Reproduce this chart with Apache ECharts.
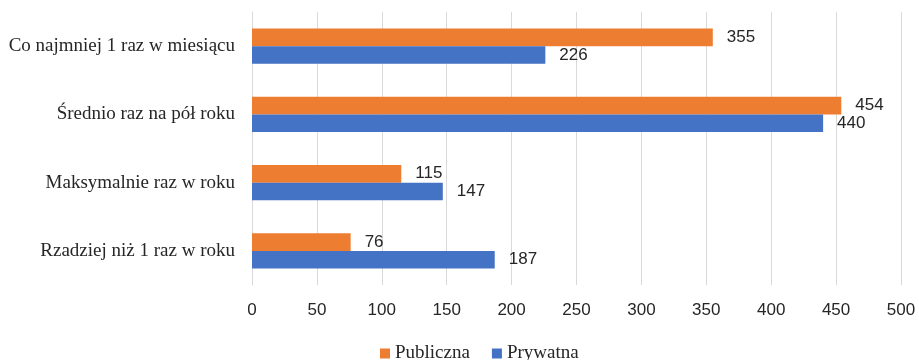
<!DOCTYPE html>
<html>
<head>
<meta charset="utf-8">
<script src="https://cdn.jsdelivr.net/npm/echarts@6/dist/echarts.min.js"></script>
<style>
  html, body { margin: 0; padding: 0; background: #ffffff; }
  #chart { width: 919px; height: 360px; }
</style>
</head>
<body>
<div id="chart"></div>
<script>
// Frequency categories, top to bottom
const categories = [
  'Co najmniej 1 raz w miesiącu',
  'Średnio raz na pół roku',
  'Maksymalnie raz w roku',
  'Rzadziej niż 1 raz w roku'
];
const publiczna = [355, 454, 115, 76];
const prywatna = [226, 440, 147, 187];
const xTicks = { min: 0, max: 500, interval: 50 };

const serif = '"Liberation Serif", "Times New Roman", serif';
const sans = '"Liberation Sans", Arial, sans-serif';

const chart = echarts.init(document.getElementById('chart'), null, { renderer: 'canvas' });

const valueLabel = {
  show: true,
  position: 'right',
  distance: 14,
  fontFamily: sans,
  fontSize: 17,
  color: '#262626'
};

chart.setOption({
  animation: false,
  backgroundColor: '#ffffff',
  grid: { left: 252, right: 18, top: 12, bottom: 75, containLabel: false },
  legend: {
    data: ['Publiczna', 'Prywatna'],
    left: 375,
    top: 339,
    itemWidth: 10,
    itemHeight: 10,
    itemGap: 22,
    icon: 'rect',
    textStyle: { fontFamily: serif, fontSize: 19, color: '#262626', padding: [0, 0, 0, 0] }
  },
  xAxis: {
    type: 'value',
    min: xTicks.min,
    max: xTicks.max,
    interval: xTicks.interval,
    axisLine: { show: false },
    axisTick: { show: false },
    splitLine: { show: true, lineStyle: { color: '#d9d9d9', width: 1 } },
    axisLabel: { fontFamily: sans, fontSize: 17, color: '#262626', margin: 17 }
  },
  yAxis: {
    type: 'category',
    data: categories,
    inverse: true,
    axisLine: { show: true, lineStyle: { color: '#d9d9d9', width: 1 } },
    axisTick: { show: false },
    axisLabel: { fontFamily: serif, fontSize: 19, color: '#262626', margin: 17 }
  },
  series: [
    {
      name: 'Publiczna',
      type: 'bar',
      data: publiczna,
      barGap: '0%',
      barCategoryGap: '48%',
      itemStyle: { color: '#ED7D31' },
      label: valueLabel
    },
    {
      name: 'Prywatna',
      type: 'bar',
      data: prywatna,
      barGap: '0%',
      barCategoryGap: '48%',
      itemStyle: { color: '#4472C4' },
      label: valueLabel
    }
  ]
});
</script>
</body>
</html>
